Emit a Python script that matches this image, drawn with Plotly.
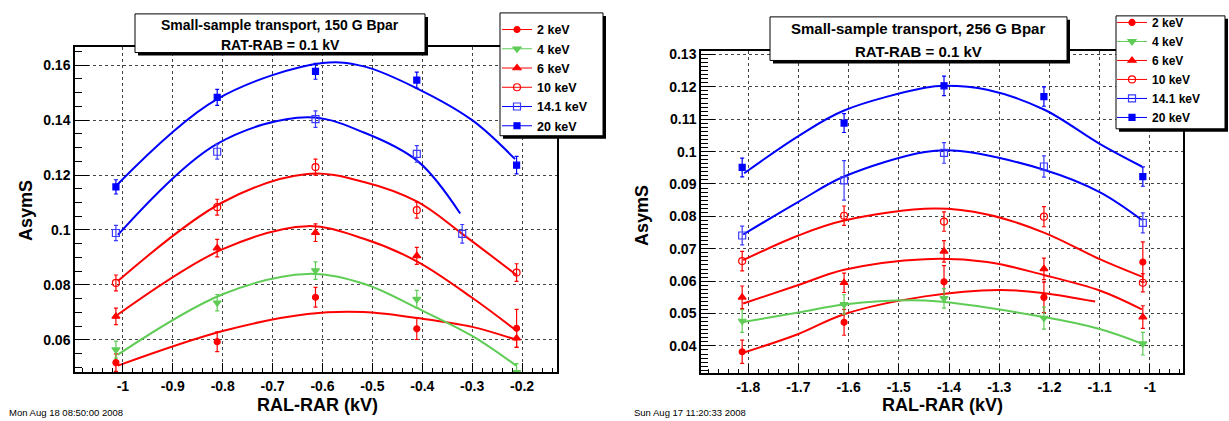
import plotly.graph_objects as go

W, H = 1229, 421

# ---------------- data: 150 G panel ----------------
labels = ["2 keV", "4 keV", "6 keV", "10 keV", "14.1 keV", "20 keV"]
v150 = [-1.014, -0.811, -0.614, -0.411, -0.211]
v150_14 = [-1.014, -0.811, -0.614, -0.411, -0.320]
a150_2 = [0.0517, 0.0593, 0.0755, 0.0640, 0.0642]
e150_2 = [0.0032, 0.0036, 0.0036, 0.0039, 0.0069]
a150_4 = [0.0564, 0.0735, 0.0852, 0.0748, 0.0481]
e150_4 = [0.0031, 0.0030, 0.0032, 0.0032, 0.0032]
a150_6 = [0.0685, 0.0934, 0.0990, 0.0906, 0.0606]
e150_6 = [0.0030, 0.0032, 0.0032, 0.0031, 0.0034]
a150_10 = [0.0807, 0.1083, 0.1229, 0.1072, 0.0845]
e150_10 = [0.0029, 0.0029, 0.0029, 0.0029, 0.0032]
a150_14 = [0.0989, 0.1285, 0.1404, 0.1277, 0.0986]
e150_14 = [0.0028, 0.0027, 0.0030, 0.0030, 0.0034]
a150_20 = [0.1157, 0.1483, 0.1578, 0.1546, 0.1236]
e150_20 = [0.0026, 0.0029, 0.0029, 0.0029, 0.0032]

# fitted curves
fx150_2 = [-1.01, -0.80, -0.63, -0.517, -0.41, -0.30, -0.212]
fy150_2 = [0.0506, 0.0632, 0.0694, 0.0701, 0.0679, 0.0647, 0.0600]
fx150_4 = [-1.01, -0.80, -0.63, -0.517, -0.41, -0.30, -0.212]
fy150_4 = [0.0546, 0.0766, 0.0840, 0.0804, 0.0715, 0.0614, 0.0506]
fx150_6 = [-1.01, -0.80, -0.63, -0.517, -0.41, -0.30, -0.212]
fy150_6 = [0.0692, 0.0930, 0.1014, 0.0968, 0.0885, 0.0753, 0.0634]
fx150_10 = [-1.01, -0.80, -0.63, -0.517, -0.41, -0.32, -0.21]
fy150_10 = [0.0814, 0.1101, 0.1204, 0.1175, 0.1103, 0.0986, 0.0834]
fx150_14 = [-1.01, -0.812, -0.63, -0.517, -0.408, -0.324]
fy150_14 = [0.0982, 0.1313, 0.1411, 0.1355, 0.1249, 0.1060]
fx150_20 = [-1.012, -0.812, -0.60, -0.517, -0.412, -0.30, -0.214]
fy150_20 = [0.1164, 0.1476, 0.1608, 0.1596, 0.1517, 0.1400, 0.1258]

# ---------------- data: 256 G panel ----------------
v256 = [-1.812, -1.609, -1.410, -1.211, -1.014]
a256_2 = [0.0382, 0.0473, 0.0598, 0.0550, 0.0659]
e256_2 = [0.0036, 0.0040, 0.0050, 0.0047, 0.0062]
a256_4 = [0.0477, 0.0528, 0.0547, 0.0486, 0.0407]
e256_4 = [0.0035, 0.0030, 0.0030, 0.0034, 0.0035]
a256_6 = [0.0550, 0.0595, 0.0692, 0.0638, 0.0489]
e256_6 = [0.0035, 0.0030, 0.0033, 0.0033, 0.0035]
a256_10 = [0.0662, 0.0802, 0.0784, 0.0799, 0.0595]
e256_10 = [0.0030, 0.0030, 0.0030, 0.0031, 0.0028]
a256_14 = [0.0741, 0.0911, 0.0996, 0.0954, 0.0780]
e256_14 = [0.0029, 0.0061, 0.0032, 0.0033, 0.0031]
a256_20 = [0.0951, 0.1088, 0.1203, 0.1170, 0.0923]
e256_20 = [0.0029, 0.0029, 0.0030, 0.0030, 0.0030]

fx256_2 = [-1.81, -1.70, -1.609, -1.448, -1.30, -1.211, -1.109]
fy256_2 = [0.0379, 0.0437, 0.0498, 0.0553, 0.0573, 0.0563, 0.0537]
fx256_4 = [-1.81, -1.70, -1.609, -1.448, -1.211, -1.10, -1.016]
fy256_4 = [0.0474, 0.0503, 0.0528, 0.0540, 0.0489, 0.0452, 0.0407]
fx256_6 = [-1.81, -1.70, -1.609, -1.448, -1.324, -1.211, -1.10, -1.016]
fy256_6 = [0.0531, 0.0588, 0.0635, 0.0668, 0.0659, 0.0619, 0.0571, 0.0513]
fx256_10 = [-1.81, -1.70, -1.609, -1.43, -1.324, -1.211, -1.10, -1.016]
fy256_10 = [0.0665, 0.0741, 0.0787, 0.0824, 0.0806, 0.0750, 0.0668, 0.0614]
fx256_14 = [-1.81, -1.70, -1.609, -1.448, -1.378, -1.211, -1.10, -1.016]
fy256_14 = [0.0744, 0.0845, 0.0923, 0.0999, 0.1002, 0.0944, 0.0875, 0.0789]
fx256_20 = [-1.808, -1.70, -1.609, -1.448, -1.408, -1.324, -1.211, -1.10, -1.016]
fy256_20 = [0.0933, 0.1048, 0.1127, 0.1197, 0.1203, 0.1191, 0.1130, 0.1024, 0.0954]

# ---------------- ticks / text ----------------
xt150 = [-1.0, -0.9, -0.8, -0.7, -0.6, -0.5, -0.4, -0.3, -0.2]
xt150_txt = ["-1", "-0.9", "-0.8", "-0.7", "-0.6", "-0.5", "-0.4", "-0.3", "-0.2"]
yt150 = [0.06, 0.08, 0.10, 0.12, 0.14, 0.16]
yt150_txt = ["0.06", "0.08", "0.1", "0.12", "0.14", "0.16"]
xt256 = [-1.8, -1.7, -1.6, -1.5, -1.4, -1.3, -1.2, -1.1, -1.0]
xt256_txt = ["-1.8", "-1.7", "-1.6", "-1.5", "-1.4", "-1.3", "-1.2", "-1.1", "-1"]
yt256 = [0.04, 0.05, 0.06, 0.07, 0.08, 0.09, 0.10, 0.11, 0.12, 0.13]
yt256_txt = ["0.04", "0.05", "0.06", "0.07", "0.08", "0.09", "0.1", "0.11", "0.12", "0.13"]

title150 = ["Small-sample transport, 150 G Bpar", "RAT-RAB = 0.1 kV"]
title256 = ["Small-sample transport, 256 G Bpar", "RAT-RAB = 0.1 kV"]
date150 = "Mon Aug 18 08:50:00 2008"
date256 = "Sun Aug 17 11:20:33 2008"
xtitle = "RAL-RAR (kV)"
ytitle = "AsymS"

# ---------------- styles ----------------
RED, GREEN, BLUE, LBLUE = "#ff0000", "#5fcc55", "#0000ff", "#3a3aff"
FONT = "Liberation Sans"
styles = [
    dict(color=RED, mcolor=RED, symbol="circle", size=6),
    dict(color=GREEN, mcolor=GREEN, symbol="triangle-down", size=7),
    dict(color=RED, mcolor=RED, symbol="triangle-up", size=7),
    dict(color=RED, mcolor=RED, symbol="circle-open", size=7),
    dict(color=BLUE, mcolor=LBLUE, symbol="square-open", size=7),
    dict(color=BLUE, mcolor=BLUE, symbol="square", size=6),
]

def X(px):
    return px / W

def Y(py):
    return 1 - py / H

fig = go.Figure()

panels = [
    dict(xa="x", ya="y", legend="legend",
         pts=[(v150, a150_2, e150_2), (v150, a150_4, e150_4), (v150, a150_6, e150_6),
              (v150, a150_10, e150_10), (v150_14, a150_14, e150_14), (v150, a150_20, e150_20)],
         fits=[(fx150_2, fy150_2), (fx150_4, fy150_4), (fx150_6, fy150_6),
               (fx150_10, fy150_10), (fx150_14, fy150_14), (fx150_20, fy150_20)]),
    dict(xa="x2", ya="y2", legend="legend2",
         pts=[(v256, a256_2, e256_2), (v256, a256_4, e256_4), (v256, a256_6, e256_6),
              (v256, a256_10, e256_10), (v256, a256_14, e256_14), (v256, a256_20, e256_20)],
         fits=[(fx256_2, fy256_2), (fx256_4, fy256_4), (fx256_6, fy256_6),
               (fx256_10, fy256_10), (fx256_14, fy256_14), (fx256_20, fy256_20)]),
]

for p in panels:
    for i, ((fx, fy), st) in enumerate(zip(p["fits"], styles)):
        fig.add_trace(go.Scatter(x=fx, y=fy, mode="lines", xaxis=p["xa"], yaxis=p["ya"],
                                 line=dict(color=st["color"], width=2, shape="spline", smoothing=1.0),
                                 showlegend=False, hoverinfo="skip"))
    for i, ((vx, vy, ve), st) in enumerate(zip(p["pts"], styles)):
        fig.add_trace(go.Scatter(x=vx, y=vy, mode="markers", xaxis=p["xa"], yaxis=p["ya"],
                                 marker=dict(color=st["mcolor"], symbol=st["symbol"], size=st["size"],
                                             line=dict(color=st["mcolor"], width=1.2)),
                                 error_y=dict(type="data", array=ve, color=st["mcolor"],
                                              thickness=1.2, width=2),
                                 showlegend=False))
    for lab, st in zip(labels, styles):
        fig.add_trace(go.Scatter(x=[None], y=[None], mode="lines+markers", name=lab,
                                 xaxis=p["xa"], yaxis=p["ya"], legend=p["legend"],
                                 line=dict(color=st["color"], width=1),
                                 marker=dict(color=st["mcolor"], symbol=st["symbol"], size=st["size"],
                                             line=dict(color=st["mcolor"], width=1.2))))

def axis_common():
    return dict(showline=True, linecolor="black", linewidth=1.5, mirror=True,
                ticks="inside", tickcolor="black", tickwidth=1,
                showgrid=True, gridcolor="#444444", griddash="dot", gridwidth=1,
                zeroline=False, tickmode="array",
                tickfont=dict(family=FONT, size=14, color="black", weight="bold"))

xa1 = axis_common()
xa1.update(domain=[X(75), X(557)], range=[-1.096, -0.130], tickvals=xt150, ticktext=xt150_txt,
           ticklen=10, anchor="y",
           minor=dict(ticks="inside", ticklen=5, tick0=0, dtick=0.02, tickcolor="black", showgrid=False))
ya1 = axis_common()
ya1.update(domain=[Y(372), Y(43)], range=[0.0481, 0.1668], tickvals=yt150, ticktext=yt150_txt,
           ticklen=14, anchor="x",
           minor=dict(ticks="inside", ticklen=7, tick0=0, dtick=0.005, tickcolor="black", showgrid=False))
xa2 = axis_common()
xa2.update(domain=[X(701), X(1183)], range=[-1.894, -0.934], tickvals=xt256, ticktext=xt256_txt,
           ticklen=10, anchor="y2",
           minor=dict(ticks="inside", ticklen=5, tick0=0, dtick=0.02, tickcolor="black", showgrid=False))
ya2 = axis_common()
ya2.update(domain=[Y(373), Y(47)], range=[0.0315, 0.1312], tickvals=yt256, ticktext=yt256_txt,
           ticklen=14, anchor="x2",
           minor=dict(ticks="inside", ticklen=7, tick0=0, dtick=0.00125, tickcolor="black", showgrid=False))

shapes = []
annotations = []

def box(x0, y0, x1, y1):
    shapes.append(dict(type="rect", xref="paper", yref="paper", layer="above",
                       x0=X(x0 + 3), x1=X(x1 + 3), y0=Y(y1 + 3), y1=Y(y0 + 3),
                       fillcolor="black", line=dict(width=0)))
    shapes.append(dict(type="rect", xref="paper", yref="paper", layer="above",
                       x0=X(x0), x1=X(x1), y0=Y(y1), y1=Y(y0),
                       fillcolor="white", line=dict(color="black", width=1)))

def text(t, x, y, size, bold=True, xanchor="center", angle=0):
    annotations.append(dict(text=t, xref="paper", yref="paper", x=X(x), y=Y(y),
                            xanchor=xanchor, yanchor="middle", showarrow=False, textangle=angle,
                            font=dict(family=FONT, size=size, color="black",
                                      weight="bold" if bold else "normal")))

# title boxes
box(135, 10, 425, 49)
text(title150[0], 280, 21, 14)
text(title150[1], 280, 41, 14)
box(770, 13, 1067, 57)
text(title256[0], 918, 25, 15)
text(title256[1], 918, 48, 15)

# legend boxes
box(500, 9, 603, 133)
box(1116, 12, 1225, 126)

# axis titles
text(ytitle, 26, 208, 18, angle=-90)
text(ytitle, 642, 214, 18, angle=-90)
text(xtitle, 317, 405, 18)
text(xtitle, 942, 405, 18)

# date stamps
text(date150, 7, 412, 9.5, bold=False, xanchor="left")
text(date256, 632, 412, 9.5, bold=False, xanchor="left")

fig.update_layout(
    width=W, height=H, margin=dict(l=0, r=0, t=0, b=0),
    paper_bgcolor="white", plot_bgcolor="white",
    xaxis=xa1, yaxis=ya1, xaxis2=xa2, yaxis2=ya2,
    shapes=shapes, annotations=annotations,
    legend=dict(x=X(497), y=Y(11), xanchor="left", yanchor="top", bgcolor="rgba(0,0,0,0)",
                borderwidth=0, font=dict(family=FONT, size=12.5, color="black", weight="bold")),
    legend2=dict(x=X(1112), y=Y(4), xanchor="left", yanchor="top", bgcolor="rgba(0,0,0,0)",
                 borderwidth=0, font=dict(family=FONT, size=12, color="black", weight="bold")),
    showlegend=True,
)

fig.write_html("out.html")
